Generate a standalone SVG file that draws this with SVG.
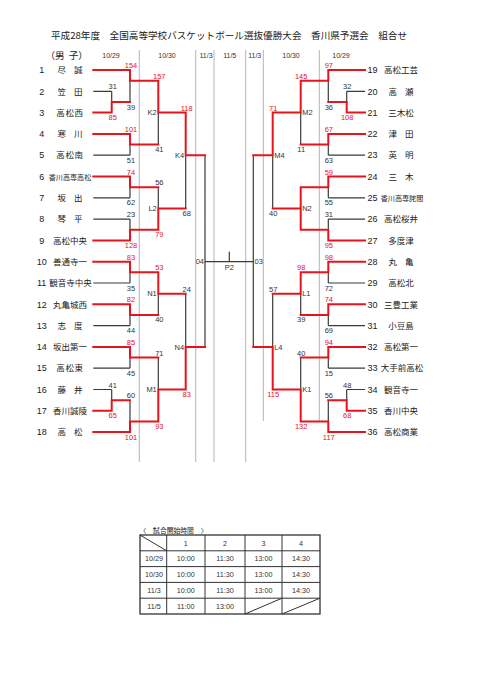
<svg xmlns="http://www.w3.org/2000/svg" width="481" height="680" viewBox="0 0 481 680">
<style>
.r{stroke:#e8141c;stroke-width:2;fill:none;stroke-linecap:square}
.k{stroke:#3a3a3a;stroke-width:1.2;fill:none}
.g{stroke:#b4b4b4;stroke-width:1;fill:none}
.t{stroke:#333;stroke-width:1;fill:none}
.num{font-family:"Liberation Sans",Arial,sans-serif;font-size:9px;text-anchor:middle;fill:#222}
.nm{font-family:"Noto Sans CJK JP",sans-serif;font-size:8.5px;text-anchor:middle;fill:#222}
.n2{word-spacing:6px}
.n3{letter-spacing:0.6px}
.sm{font-size:7.1px}
.sr{font-family:"Liberation Sans",Arial,sans-serif;font-size:7.5px;text-anchor:middle;fill:#e8141c}
.sk{font-family:"Liberation Sans",Arial,sans-serif;font-size:7.5px;text-anchor:middle;fill:#333}
.ml{font-family:"Liberation Sans",Arial,sans-serif;font-size:7.5px;fill:#333}
.hd{font-family:"Liberation Sans",Arial,sans-serif;font-size:7px;text-anchor:middle;fill:#333}
.ti{font-family:"Noto Sans CJK JP",sans-serif;font-size:9.6px;fill:#222}
.tc{font-family:"Liberation Sans",Arial,sans-serif;font-size:7.2px;text-anchor:middle;fill:#333}
</style>
<rect width="481" height="680" fill="#fff"/>

<g id="title">
<text class="ti" x="51" y="38.5">平成28年度　全国高等学校バスケットボール選抜優勝大会　香川県予選会　組合せ</text>
<text class="ti" x="66.7" y="58.5" text-anchor="middle" style="word-spacing:2px">（男 子）</text>
</g>

<g id="dates">
<text class="hd" x="111" y="57.5">10/29</text>
<text class="hd" x="167" y="57.5">10/30</text>
<text class="hd" x="206" y="57.5">11/3</text>
<text class="hd" x="229.7" y="57.5">11/5</text>
<text class="hd" x="254.7" y="57.5">11/3</text>
<text class="hd" x="291" y="57.5">10/30</text>
<text class="hd" x="341" y="57.5">10/29</text>
</g>

<g id="dividers">
<path class="g" d="M139.3,50V462M195.7,50V462M214,50V462M245.7,50V462M263.3,50V421M319.3,50V421"/>
</g>

<g id="teams-left">
<g id="team-1"><text class="num" x="41.7" y="73.2">1</text><text class="nm n2" x="70" y="73.2">尽 誠</text></g>
<g id="team-2"><text class="num" x="41.7" y="94.5">2</text><text class="nm n2" x="70" y="94.5">笠 田</text></g>
<g id="team-3"><text class="num" x="41.7" y="115.8">3</text><text class="nm n3" x="70" y="115.8">高松西</text></g>
<g id="team-4"><text class="num" x="41.7" y="137.1">4</text><text class="nm n2" x="70" y="137.1">寒 川</text></g>
<g id="team-5"><text class="num" x="41.7" y="158.4">5</text><text class="nm n3" x="70" y="158.4">高松南</text></g>
<g id="team-6"><text class="num" x="41.7" y="179.7">6</text><text class="nm sm" x="70" y="179.7">香川高専高松</text></g>
<g id="team-7"><text class="num" x="41.7" y="201">7</text><text class="nm n2" x="70" y="201">坂 出</text></g>
<g id="team-8"><text class="num" x="41.7" y="222.3">8</text><text class="nm n2" x="70" y="222.3">琴 平</text></g>
<g id="team-9"><text class="num" x="41.7" y="243.6">9</text><text class="nm" x="70" y="243.6">高松中央</text></g>
<g id="team-10"><text class="num" x="41.7" y="264.9">10</text><text class="nm" x="70" y="264.9">善通寺一</text></g>
<g id="team-11"><text class="num" x="41.7" y="286.2">11</text><text class="nm" x="70.5" y="286.2">観音寺中央</text></g>
<g id="team-12"><text class="num" x="41.7" y="307.5">12</text><text class="nm" x="70" y="307.5">丸亀城西</text></g>
<g id="team-13"><text class="num" x="41.7" y="328.8">13</text><text class="nm n2" x="70" y="328.8">志 度</text></g>
<g id="team-14"><text class="num" x="41.7" y="350.1">14</text><text class="nm" x="70" y="350.1">坂出第一</text></g>
<g id="team-15"><text class="num" x="41.7" y="371.4">15</text><text class="nm n3" x="70" y="371.4">高松東</text></g>
<g id="team-16"><text class="num" x="41.7" y="392.7">16</text><text class="nm n2" x="70" y="392.7">藤 井</text></g>
<g id="team-17"><text class="num" x="41.7" y="414">17</text><text class="nm" x="70" y="414">香川誠陵</text></g>
<g id="team-18"><text class="num" x="41.7" y="435.3">18</text><text class="nm n2" x="70" y="435.3">高 松</text></g>
</g>

<g id="teams-right">
<g id="team-19"><text class="num" x="372.5" y="73.2">19</text><text class="nm" x="401" y="73.2">高松工芸</text></g>
<g id="team-20"><text class="num" x="372.5" y="94.5">20</text><text class="nm n2" x="401" y="94.5">高 瀬</text></g>
<g id="team-21"><text class="num" x="372.5" y="115.8">21</text><text class="nm" x="401" y="115.8">三木松</text></g>
<g id="team-22"><text class="num" x="372.5" y="137.1">22</text><text class="nm n2" x="401" y="137.1">津 田</text></g>
<g id="team-23"><text class="num" x="372.5" y="158.4">23</text><text class="nm n2" x="401" y="158.4">英 明</text></g>
<g id="team-24"><text class="num" x="372.5" y="179.7">24</text><text class="nm n2" x="401" y="179.7">三 木</text></g>
<g id="team-25"><text class="num" x="372.5" y="201">25</text><text class="nm sm" x="402" y="201">香川高専詫間</text></g>
<g id="team-26"><text class="num" x="372.5" y="222.3">26</text><text class="nm" x="401" y="222.3">高松桜井</text></g>
<g id="team-27"><text class="num" x="372.5" y="243.6">27</text><text class="nm" x="401" y="243.6">多度津</text></g>
<g id="team-28"><text class="num" x="372.5" y="264.9">28</text><text class="nm n2" x="401" y="264.9">丸 亀</text></g>
<g id="team-29"><text class="num" x="372.5" y="286.2">29</text><text class="nm" x="401" y="286.2">高松北</text></g>
<g id="team-30"><text class="num" x="372.5" y="307.5">30</text><text class="nm" x="401" y="307.5">三豊工業</text></g>
<g id="team-31"><text class="num" x="372.5" y="328.8">31</text><text class="nm" x="401" y="328.8">小豆島</text></g>
<g id="team-32"><text class="num" x="372.5" y="350.1">32</text><text class="nm" x="401" y="350.1">高松第一</text></g>
<g id="team-33"><text class="num" x="372.5" y="371.4">33</text><text class="nm" x="402" y="371.4">大手前高松</text></g>
<g id="team-34"><text class="num" x="372.5" y="392.7">34</text><text class="nm" x="401" y="392.7">観音寺一</text></g>
<g id="team-35"><text class="num" x="372.5" y="414">35</text><text class="nm" x="401" y="414">香川中央</text></g>
<g id="team-36"><text class="num" x="372.5" y="435.3">36</text><text class="nm" x="401" y="435.3">高松商業</text></g>
</g>

<g id="connectors">
<!-- black (losing) segments -->
<path class="k" d="M93.3,91.3H111.7M93.3,155.2H130M93.3,197.8H130M93.3,219.1H130M93.3,283H130M93.3,325.6H130M93.3,368.2H130M93.3,389.5H111.7
M111.7,91.3V101.95M111.7,389.5V400.15
M130,80.65V101.95M130,144.55V155.2M130,187.15V197.8M130,219.1V229.75M130,272.35V283M130,314.95V325.6M130,357.55V368.2M130,400.15V421.45
M158.3,112.6V144.55M158.3,187.15V208.45M158.3,293.65V314.95M158.3,357.55V389.5
M185.7,155.2V208.45M185.7,293.65V346.9
M205,155.2V346.9M205,261.7H253.3M229.3,251.7V261.7M253.3,155.2V346.9
M365,91.3H346.7M365,155.2H328.3M365,197.8H328.3M365,219.1H328.3M365,283H328.3M365,325.6H328.3M365,368.2H328.3M365,389.5H346.7
M346.7,91.3V101.95M346.7,389.5V400.15
M328.3,80.65V101.95M328.3,144.55V155.2M328.3,187.15V197.8M328.3,219.1V229.75M328.3,272.35V283M328.3,314.95V325.6M328.3,357.55V368.2M328.3,400.15V421.45
M300.7,112.6V144.55M300.7,293.65V314.95M300.7,357.55V389.5
M272.7,155.2V208.45M272.7,293.65V346.9"/>
<!-- red (winning) segments -->
<path class="r" d="M93.3,70H130M93.3,112.6H111.7M93.3,133.9H130M93.3,176.5H130M93.3,240.4H130M93.3,261.7H130M93.3,304.3H130M93.3,346.9H130M93.3,410.8H111.7M93.3,432.1H130
M111.7,101.95V112.6M111.7,101.95H130M111.7,400.15V410.8M111.7,400.15H130
M130,70V80.65H158.3M130,133.9V144.55H158.3M130,176.5V187.15H158.3M130,240.4V229.75H158.3M130,261.7V272.35H158.3M130,304.3V314.95H158.3M130,346.9V357.55H158.3M130,432.1V421.45H158.3
M158.3,80.65V112.6H185.7M158.3,229.75V208.45H185.7M158.3,272.35V293.65H185.7M158.3,421.45V389.5H185.7
M185.7,112.6V155.2H205M185.7,389.5V346.9H205
M365,70H328.3M365,112.6H346.7M365,133.9H328.3M365,176.5H328.3M365,240.4H328.3M365,261.7H328.3M365,304.3H328.3M365,346.9H328.3M365,410.8H346.7M365,432.1H328.3
M346.7,101.95V112.6M346.7,101.95H328.3M346.7,400.15V410.8M346.7,400.15H328.3
M328.3,70V80.65H300.7M328.3,133.9V144.55H300.7M328.3,176.5V187.15H300.7M328.3,240.4V229.75H300.7M328.3,261.7V272.35H300.7M328.3,304.3V314.95H300.7M328.3,346.9V357.55H300.7M328.3,432.1V421.45H300.7
M300.7,80.65V112.6H272.7M300.7,187.15V229.75M300.7,208.45H272.7M300.7,272.35V293.65H272.7M300.7,421.45V389.5H272.7
M272.7,112.6V155.2H253.3M272.7,389.5V346.9H253.3"/>
</g>

<g id="scores-left">
<text class="sk" x="112.7" y="89.3">31</text><text class="sr" x="112.7" y="120.1">85</text>
<text class="sk" x="112.7" y="387.5">41</text><text class="sr" x="112.7" y="418.3">65</text>
<text class="sr" x="131" y="68">154</text><text class="sk" x="131" y="109.5">39</text>
<text class="sr" x="131" y="131.9">101</text><text class="sk" x="131" y="162.7">51</text>
<text class="sr" x="131" y="174.5">74</text><text class="sk" x="131" y="205.3">62</text>
<text class="sk" x="131" y="217.1">23</text><text class="sr" x="131" y="247.9">128</text>
<text class="sr" x="131" y="259.7">83</text><text class="sk" x="131" y="290.5">35</text>
<text class="sr" x="131" y="302.3">82</text><text class="sk" x="131" y="333.1">44</text>
<text class="sr" x="131" y="344.9">85</text><text class="sk" x="131" y="375.7">45</text>
<text class="sk" x="131" y="398.1">60</text><text class="sr" x="131" y="439.6">101</text>
<text class="sr" x="159.3" y="78.6">157</text><text class="sk" x="159.3" y="152">41</text>
<text class="sk" x="159.3" y="185.1">56</text><text class="sr" x="159.3" y="237.2">79</text>
<text class="sr" x="159.3" y="270.3">53</text><text class="sk" x="159.3" y="322.4">40</text>
<text class="sk" x="159.3" y="355.5">71</text><text class="sr" x="159.3" y="428.9">93</text>
<text class="sr" x="186.7" y="110.6">118</text><text class="sk" x="186.7" y="215.9">68</text>
<text class="sk" x="186.7" y="291.6">24</text><text class="sr" x="186.7" y="397">83</text>
</g>

<g id="scores-right">
<text class="sk" x="347.2" y="89.3">32</text><text class="sr" x="347.2" y="120.1">108</text>
<text class="sk" x="347.2" y="387.5">48</text><text class="sr" x="347.2" y="418.3">68</text>
<text class="sr" x="328.8" y="68">97</text><text class="sk" x="328.8" y="109.5">36</text>
<text class="sr" x="328.8" y="131.9">67</text><text class="sk" x="328.8" y="162.7">63</text>
<text class="sr" x="328.8" y="174.5">59</text><text class="sk" x="328.8" y="205.3">55</text>
<text class="sk" x="328.8" y="217.1">31</text><text class="sr" x="328.8" y="247.9">95</text>
<text class="sr" x="328.8" y="259.7">98</text><text class="sk" x="328.8" y="290.5">72</text>
<text class="sr" x="328.8" y="302.3">74</text><text class="sk" x="328.8" y="333.1">69</text>
<text class="sr" x="328.8" y="344.9">94</text><text class="sk" x="328.8" y="375.7">15</text>
<text class="sk" x="328.8" y="398.1">56</text><text class="sr" x="328.8" y="439.6">117</text>
<text class="sr" x="301.2" y="78.6">145</text><text class="sk" x="301.2" y="152">11</text>
<text class="sr" x="301.2" y="270.3">98</text><text class="sk" x="301.2" y="322.4">39</text>
<text class="sk" x="301.2" y="355.5">40</text><text class="sr" x="301.2" y="428.9">132</text>
<text class="sr" x="273.2" y="110.6">71</text><text class="sk" x="273.2" y="215.9">40</text>
<text class="sk" x="273.2" y="291.6">57</text><text class="sr" x="273.2" y="397">115</text>
</g>

<g id="matches">
<g id="m-K2"><text class="ml" x="156.8" y="115.3" text-anchor="end">K2</text></g>
<g id="m-L2"><text class="ml" x="156.8" y="211.2" text-anchor="end">L2</text></g>
<g id="m-N1"><text class="ml" x="156.8" y="296.4" text-anchor="end">N1</text></g>
<g id="m-M1"><text class="ml" x="156.8" y="392.2" text-anchor="end">M1</text></g>
<g id="m-K4"><text class="ml" x="184.2" y="157.9" text-anchor="end">K4</text></g>
<g id="m-N4"><text class="ml" x="184.2" y="349.6" text-anchor="end">N4</text></g>
<g id="m-04"><text class="ml" x="204" y="264.4" text-anchor="end">04</text></g>
<g id="m-P2"><text class="ml" x="229.3" y="270.2" text-anchor="middle">P2</text></g>
<g id="m-03"><text class="ml" x="254.6" y="264.4">03</text></g>
<g id="m-M2"><text class="ml" x="302.2" y="115.3">M2</text></g>
<g id="m-N2"><text class="ml" x="302.2" y="211.2">N2</text></g>
<g id="m-L1"><text class="ml" x="302.2" y="296.4">L1</text></g>
<g id="m-K1"><text class="ml" x="302.2" y="392.2">K1</text></g>
<g id="m-M4"><text class="ml" x="274.2" y="157.9">M4</text></g>
<g id="m-L4"><text class="ml" x="274.2" y="349.6">L4</text></g>
</g>

<g id="schedule">
<text class="ti" x="139.5" y="532.5" style="font-size:6.8px">〈　試合開始時間　〉</text>
<rect class="t" x="140" y="535" width="180" height="79" style="stroke-width:1.3"/>
<path class="t" d="M140,550.8H320M140,566.6H320M140,582.4H320M140,598.2H320M166.7,535V614M205,535V614M245,535V614M282,535V614M140,535L166.7,550.8M245,614L282,598.2M282,614L320,598.2"/>
<text class="tc" x="185.8" y="545.5">1</text><text class="tc" x="225" y="545.5">2</text><text class="tc" x="263.5" y="545.5">3</text><text class="tc" x="301" y="545.5">4</text>
<text class="tc" x="154" y="561.3">10/29</text><text class="tc" x="185.8" y="561.3">10:00</text><text class="tc" x="225" y="561.3">11:30</text><text class="tc" x="263.5" y="561.3">13:00</text><text class="tc" x="301" y="561.3">14:30</text>
<text class="tc" x="154" y="577.1">10/30</text><text class="tc" x="185.8" y="577.1">10:00</text><text class="tc" x="225" y="577.1">11:30</text><text class="tc" x="263.5" y="577.1">13:00</text><text class="tc" x="301" y="577.1">14:30</text>
<text class="tc" x="154" y="592.9">11/3</text><text class="tc" x="185.8" y="592.9">10:00</text><text class="tc" x="225" y="592.9">11:30</text><text class="tc" x="263.5" y="592.9">13:00</text><text class="tc" x="301" y="592.9">14:30</text>
<text class="tc" x="154" y="608.7">11/5</text><text class="tc" x="185.8" y="608.7">11:00</text><text class="tc" x="225" y="608.7">13:00</text>
</g>
</svg>
